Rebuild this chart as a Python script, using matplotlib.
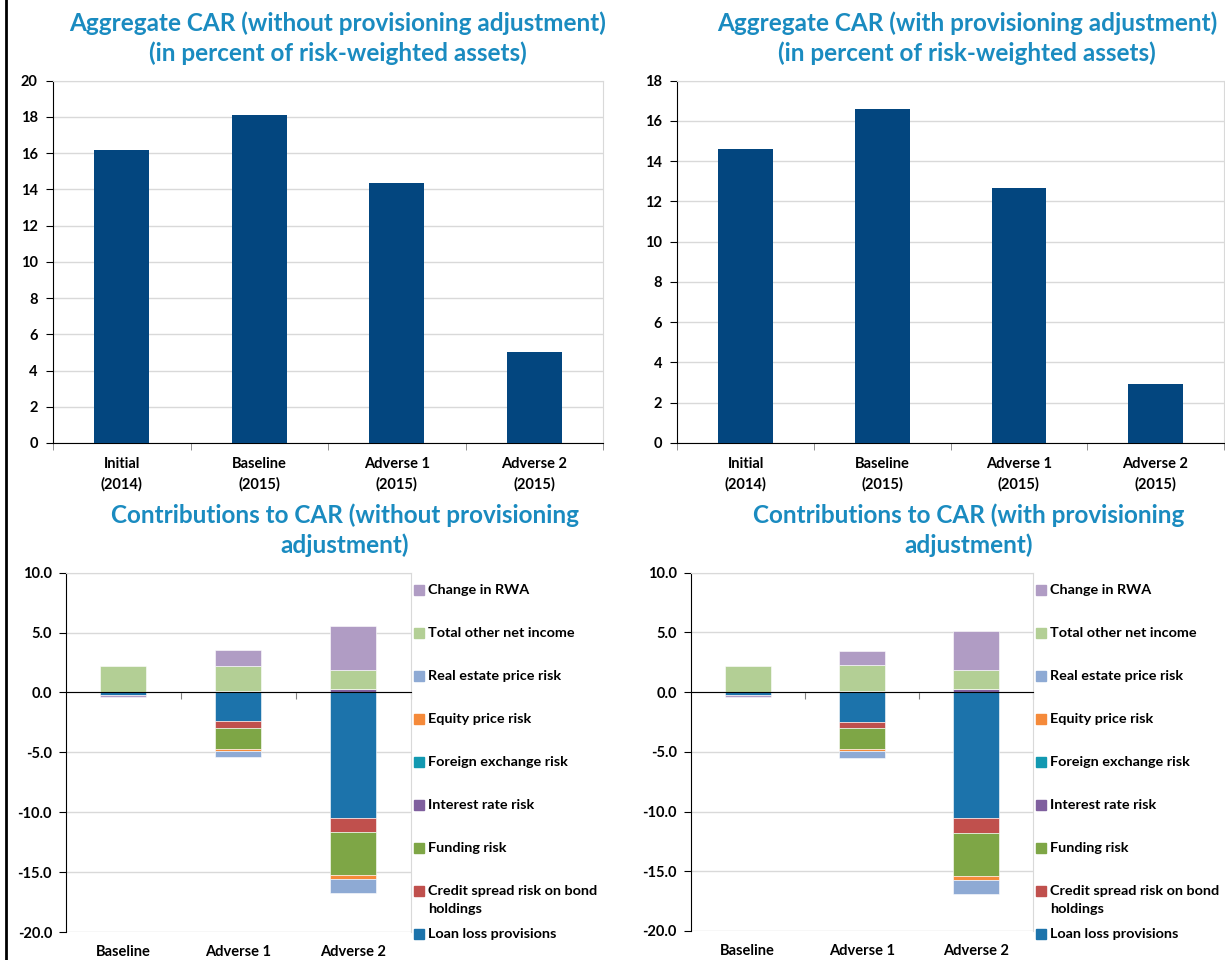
import numpy as np
import matplotlib
matplotlib.use('Agg')
import matplotlib.pyplot as plt
from matplotlib.lines import Line2D
from matplotlib.patches import Rectangle
import matplotlib.transforms as mtransforms

plt.rcParams['font.family'] = ['Lato', 'DejaVu Sans']
plt.rcParams['font.weight'] = 'bold'

# aggregate CAR, percent of RWA
car_cats = ['Initial\n(2014)', 'Baseline\n(2015)', 'Adverse 1\n(2015)', 'Adverse 2\n(2015)']
car_without = [16.15, 18.1, 14.35, 5.0]
car_with = [14.62, 16.6, 12.68, 2.95]

# contributions to CAR (stack order = series order)
contrib_cats = ['Baseline', 'Adverse 1', 'Adverse 2']
series_names = ['Loan loss provisions', 'Credit spread risk on bond\nholdings', 'Funding risk',
                'Interest rate risk', 'Foreign exchange risk', 'Equity price risk',
                'Real estate price risk', 'Total other net income', 'Change in RWA']
series_colors = ['#1c73ab', '#c0504d', '#7ea646', '#7f5f9e', '#1299b1', '#f58a3a',
                 '#8eaad4', '#b3cf95', '#b09cc4']

loan_loss_wo = [-0.22, -2.42, -10.5]
credit_spread_wo = [0.0, -0.53, -1.19]
funding_wo = [0.0, -1.78, -3.53]
interest_wo = [0.0, 0.15, 0.28]
fx_wo = [0.0, 0.0, 0.0]
equity_wo = [0.0, -0.17, -0.36]
real_estate_wo = [0.0, -0.5, -1.14]
other_income_wo = [2.19, 2.08, 1.61]
rwa_wo = [-0.12, 1.28, 3.64]

loan_loss_w = [-0.2, -2.46, -10.55]
credit_spread_w = [0.0, -0.53, -1.23]
funding_w = [0.0, -1.79, -3.6]
interest_w = [0.0, 0.11, 0.28]
fx_w = [0.0, 0.0, 0.0]
equity_w = [0.0, -0.17, -0.36]
real_estate_w = [0.0, -0.56, -1.2]
other_income_w = [2.2, 2.15, 1.56]
rwa_w = [-0.17, 1.17, 3.32]

contrib_wo = [loan_loss_wo, credit_spread_wo, funding_wo, interest_wo, fx_wo,
              equity_wo, real_estate_wo, other_income_wo, rwa_wo]
contrib_w = [loan_loss_w, credit_spread_w, funding_w, interest_w, fx_w,
             equity_w, real_estate_w, other_income_w, rwa_w]

title_color = '#1a8bc0'
grid_color = '#d9d9d9'
bar_blue = '#03467f'

fig = plt.figure(figsize=(12.25, 9.6), dpi=100)


def car_chart(rect, values, ymax, title, tx):
    ax = fig.add_axes(rect)
    x = np.arange(len(car_cats))
    ax.bar(x, values, 0.4, color=bar_blue, zorder=3)
    ax.set_xlim(-0.5, 3.5)
    ax.set_ylim(0, ymax)
    ax.set_yticks(np.arange(0, ymax + 1, 2))
    ax.yaxis.grid(True, color=grid_color, lw=1)
    ax.set_axisbelow(True)
    ax.set_xticks(x, car_cats)
    ax.set_xticks(np.arange(-0.5, 4), minor=True)
    ax.tick_params(axis='x', which='major', length=0, pad=10, labelsize=10.5)
    ax.tick_params(axis='x', which='minor', length=5, color='#808080')
    ax.tick_params(axis='y', length=5, labelsize=10.5, pad=6)
    for lab in ax.get_xticklabels():
        lab.set_linespacing(1.5)
    ax.spines['top'].set_color(grid_color)
    ax.spines['right'].set_color(grid_color)
    fig.text(tx, 1 - 38 / 960, title, ha='center', va='center', fontsize=17.5,
             color=title_color, linespacing=1.3)
    return ax


def contrib_chart(rect, data, title, tx, legend_x):
    ax = fig.add_axes(rect)
    x = np.arange(len(contrib_cats))
    pos = np.zeros(len(x))
    neg = np.zeros(len(x))
    for vals, color in zip(data, series_colors):
        v = np.array(vals)
        bottom = np.where(v >= 0, pos, neg)
        ax.bar(x, v, 0.4, bottom=bottom, color=color, edgecolor='white', lw=0.4, zorder=3)
        pos += np.clip(v, 0, None)
        neg += np.clip(v, None, 0)
    ax.set_xlim(-0.5, 2.5)
    ax.set_ylim(-20, 10)
    yt = np.arange(-20, 10.1, 5)
    ax.set_yticks(yt, [f'{t:.1f}' for t in yt])
    ax.yaxis.grid(True, color=grid_color, lw=1)
    ax.set_axisbelow(True)
    ax.tick_params(axis='y', length=5, labelsize=10.5, pad=5)
    ax.set_xticks(np.arange(0.5, 3), [])
    ax.tick_params(axis='x', length=5, color='#808080')
    ax.spines['bottom'].set_position(('data', 0))
    ax.spines['bottom'].set_zorder(4)
    ax.spines['top'].set_color(grid_color)
    ax.spines['right'].set_color(grid_color)
    trans = mtransforms.blended_transform_factory(ax.transData, ax.transAxes)
    for i, c in enumerate(contrib_cats):
        ax.text(i, -0.055, c, transform=trans, ha='center', va='center', fontsize=10.5)
    fig.text(tx, 1 - 530 / 960, title, ha='center', va='center', fontsize=17.5,
             color=title_color, linespacing=1.3)

    # legend, listed in reverse stack order like the original
    ys = [590, 633, 676, 719, 762, 805, 848, 891, 934]
    for name, color, y in zip(series_names[::-1], series_colors[::-1], ys):
        fig.add_artist(Rectangle((legend_x / 1225, 1 - (y + 5) / 960), 10 / 1225, 10 / 960,
                                 color=color, transform=fig.transFigure))
        if '\n' in name:
            fig.text((legend_x + 14) / 1225, 1 - (y - 6) / 960, name, ha='left', va='top',
                     fontsize=10.4, linespacing=1.6)
        else:
            fig.text((legend_x + 14) / 1225, 1 - y / 960, name, ha='left', va='center',
                     fontsize=10.4)
    return ax


car_chart([53 / 1225, 1 - 443 / 960, 550 / 1225, 362.3 / 960], car_without, 20,
          'Aggregate CAR (without provisioning adjustment)\n(in percent of risk-weighted assets)', 338 / 1225)
car_chart([677.3 / 1225, 1 - 443 / 960, 546.5 / 1225, 362.3 / 960], car_with, 18,
          'Aggregate CAR (with provisioning adjustment)\n(in percent of risk-weighted assets)', 967 / 1225)

contrib_chart([66 / 1225, 1 - 932 / 960, 344.7 / 1225, 359.3 / 960], contrib_wo,
              'Contributions to CAR (without provisioning\nadjustment)', 345 / 1225, 414)
contrib_chart([690.7 / 1225, 1 - 931 / 960, 342.3 / 1225, 358.3 / 960], contrib_w,
              'Contributions to CAR (with provisioning\nadjustment)', 969 / 1225, 1036)

# black frame line on the left edge
fig.add_artist(Line2D([6 / 1225, 6 / 1225], [0, 1], color='black', lw=2, transform=fig.transFigure))

fig.savefig('out.png', dpi=100)
